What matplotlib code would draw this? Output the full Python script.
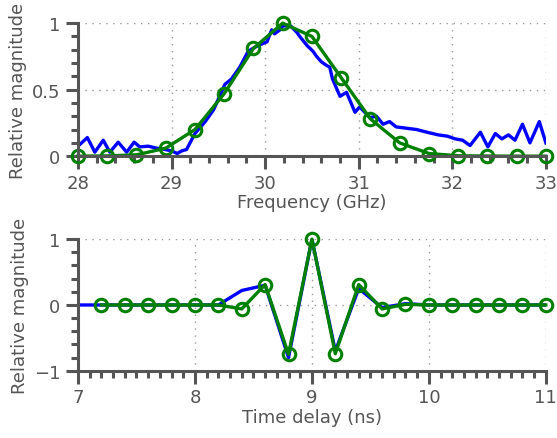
import numpy as np
import matplotlib.pyplot as plt
from matplotlib.ticker import MultipleLocator

# spectrum: measured (blue) and sampled model (green)
freq_meas = [28.0, 28.1, 28.18, 28.27, 28.34, 28.43, 28.52, 28.6, 28.66, 28.75,
             28.84, 28.93, 29.0, 29.06, 29.11, 29.16, 29.25, 29.36, 29.45, 29.57,
             29.64, 29.73, 29.82, 29.92, 30.02, 30.07, 30.1, 30.16, 30.19, 30.27,
             30.34, 30.37, 30.45, 30.51, 30.55, 30.6, 30.66, 30.69, 30.72, 30.8,
             30.87, 30.96, 31.01, 31.12, 31.19, 31.26, 31.33, 31.4, 31.51, 31.62,
             31.73, 31.85, 31.95, 32.03, 32.11, 32.19, 32.3, 32.38, 32.46, 32.53,
             32.6, 32.67, 32.75, 32.83, 32.93, 33.0]
mag_meas = [0.075, 0.14, 0.03, 0.12, 0.03, 0.105, 0.03, 0.105, 0.07, 0.075,
            0.06, 0.05, 0.04, 0.02, 0.04, 0.05, 0.17, 0.26, 0.35, 0.54,
            0.58, 0.67, 0.79, 0.83, 0.86, 0.95, 0.92, 0.95, 0.98, 0.98,
            0.93, 0.9, 0.83, 0.79, 0.75, 0.71, 0.68, 0.67, 0.58, 0.45,
            0.48, 0.33, 0.37, 0.29, 0.3, 0.24, 0.26, 0.22, 0.21, 0.2,
            0.18, 0.16, 0.15, 0.13, 0.12, 0.08, 0.18, 0.07, 0.17, 0.13,
            0.16, 0.12, 0.24, 0.1, 0.26, 0.1]

freq_model = np.linspace(28, 33, 17)
mag_model = [0, 0.002, 0.01, 0.06, 0.2, 0.47, 0.81, 1.0, 0.9, 0.59,
             0.28, 0.1, 0.02, 0.003, 0.001, 0, 0]

# impulse response
t_meas = [7.0, 7.2, 7.4, 7.6, 7.8, 8.0, 8.2, 8.4, 8.6, 8.8, 9.0, 9.2, 9.4,
          9.6, 9.8, 10.0, 10.2, 10.4, 10.6, 10.8, 11.0]
h_meas = [0, 0, 0, 0, 0, 0, 0, 0.22, 0.3, -0.8, 1.0, -0.7, 0.25,
          -0.04, 0.02, 0, 0, 0, 0, 0, 0]
t_model = [7.2, 7.4, 7.6, 7.8, 8.0, 8.2, 8.4, 8.6, 8.8, 9.0, 9.2, 9.4,
           9.6, 9.8, 10.0, 10.2, 10.4, 10.6, 10.8, 11.0]
h_model = [0, 0, 0, 0, 0, 0, -0.06, 0.31, -0.75, 1.0, -0.74, 0.31,
           -0.06, 0.01, 0, 0, 0, 0, 0, 0]

gray = '#555555'
plt.rcParams['font.family'] = 'DejaVu Sans'

fig = plt.figure(figsize=(5.57, 4.39), dpi=100)
ax1 = fig.add_axes([0.140, 0.642, 0.840, 0.303])
ax2 = fig.add_axes([0.140, 0.153, 0.840, 0.300])

mk = dict(marker='o', mfc='none', mec='green', ms=9, mew=2.2, clip_on=False)

ax1.plot(freq_meas, mag_meas, color='blue', lw=2.4)
ax1.plot(freq_model, mag_model, color='green', lw=2.4, **mk)
ax1.set_xlim(28, 33)
ax1.set_ylim(0, 1)
ax1.set_yticks([0, 0.5, 1])
ax1.set_yticklabels(['0', '0.5', '1'])
ax1.xaxis.set_major_locator(MultipleLocator(1))
ax1.xaxis.set_minor_locator(MultipleLocator(0.2))
ax1.yaxis.set_minor_locator(MultipleLocator(0.1))
ax1.set_xlabel('Frequency (GHz)', color=gray, fontsize=13, labelpad=1)

ax2.plot(t_meas, h_meas, color='blue', lw=2.4)
ax2.plot(t_model, h_model, color='green', lw=2.4, **mk)
ax2.set_xlim(7, 11)
ax2.set_ylim(-1, 1)
ax2.set_yticks([-1, 0, 1])
ax2.set_yticklabels(['\u22121', '0', '1'])
ax2.xaxis.set_major_locator(MultipleLocator(1))
ax2.xaxis.set_minor_locator(MultipleLocator(0.1))
ax2.yaxis.set_minor_locator(MultipleLocator(0.2))
ax2.set_xlabel('Time delay (ns)', color=gray, fontsize=13, labelpad=1)

for ax in (ax1, ax2):
    ax.set_ylabel('Relative magnitude', color=gray, fontsize=13, labelpad=4)
    ax.spines['top'].set_visible(False)
    ax.spines['right'].set_visible(False)
    for s in ('left', 'bottom'):
        ax.spines[s].set_color(gray)
        ax.spines[s].set_linewidth(2.2)
    ax.tick_params(which='major', direction='out', length=9, width=2.2,
                   color=gray, labelcolor=gray, labelsize=13)
    ax.tick_params(which='minor', direction='out', length=5, width=2.2,
                   color=gray)
    ax.grid(True, which='major', color='#999999', ls=(0, (1, 4)), lw=1)
    ax.set_axisbelow(True)

fig.savefig('out.png', dpi=100)
